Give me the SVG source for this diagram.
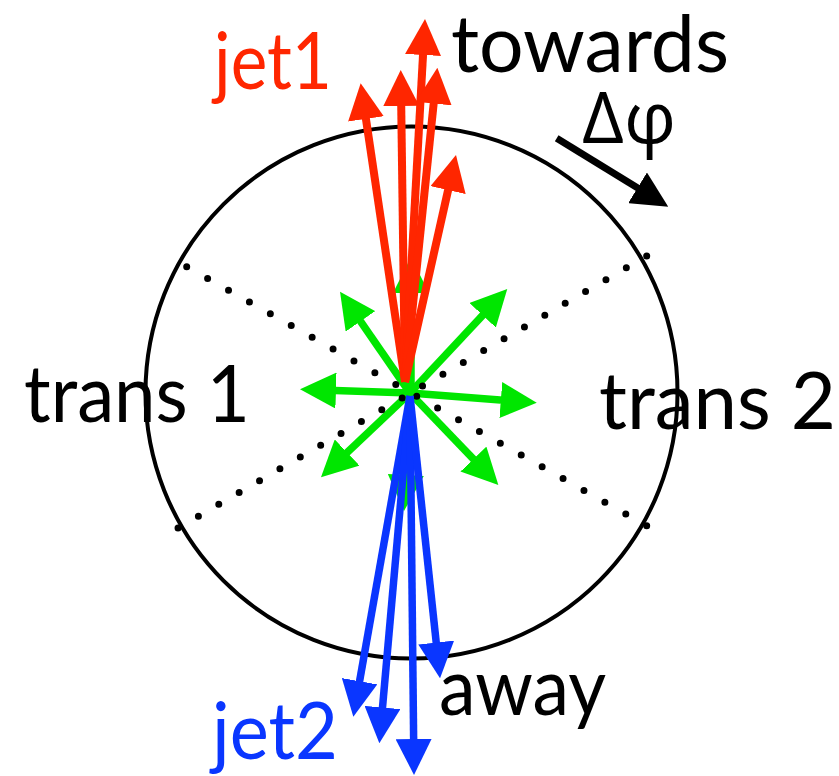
<svg xmlns="http://www.w3.org/2000/svg" width="839" height="776" viewBox="0 0 839 776">
<defs>
<style>
.lbl{font-family:Lato,"Open Sans","Liberation Sans",sans-serif;font-size:80px;fill:#000}
.red{fill:#ff2600}
.blue{fill:#0a36ff}
.sr{stroke:#ff2600;stroke-width:8;fill:none;marker-end:url(#hr)}
.sb{stroke:#0a36ff;stroke-width:7.5;fill:none;marker-end:url(#hb)}
.sg{stroke:#00e600;stroke-width:7.5;fill:none;marker-end:url(#hg)}
.dot{stroke:#000;stroke-width:7;stroke-linecap:round;fill:none}
</style>
<marker id="hr" viewBox="0 -18 36 36" refX="16" refY="0" markerWidth="36" markerHeight="36" markerUnits="userSpaceOnUse" orient="auto"><path d="M0,-18 L36,0 L0,18 z" fill="#ff2600"/></marker>
<marker id="hb" viewBox="0 -18 36 36" refX="16" refY="0" markerWidth="36" markerHeight="36" markerUnits="userSpaceOnUse" orient="auto"><path d="M0,-18 L36,0 L0,18 z" fill="#0a36ff"/></marker>
<marker id="hg" viewBox="0 -18 36 36" refX="16" refY="0" markerWidth="36" markerHeight="36" markerUnits="userSpaceOnUse" orient="auto"><path d="M0,-18 L36,0 L0,18 z" fill="#00e600"/></marker>
<marker id="hk" viewBox="0 -18 36 36" refX="16" refY="0" markerWidth="36" markerHeight="36" markerUnits="userSpaceOnUse" orient="auto"><path d="M0,-18 L36,0 L0,18 z" fill="#000"/></marker>
</defs>
<rect width="839" height="776" fill="#fff"/>
<g id="labels">
<text id="towards" class="lbl" x="451" y="72" textLength="278" lengthAdjust="spacingAndGlyphs">towards</text>
<text id="jet1" class="lbl red" x="214" y="89" textLength="118" lengthAdjust="spacingAndGlyphs">jet1</text>
<text id="dphi" class="lbl" x="582" y="143" style="font-family:'Open Sans',sans-serif;font-size:72px" textLength="94" lengthAdjust="spacingAndGlyphs">Δφ</text>
<text id="trans1" class="lbl" x="24" y="422" textLength="226" lengthAdjust="spacingAndGlyphs">trans 1</text>
<text id="trans2" class="lbl" x="599" y="429" textLength="237" lengthAdjust="spacingAndGlyphs">trans 2</text>
<text id="away" class="lbl" x="439" y="715" textLength="167" lengthAdjust="spacingAndGlyphs">away</text>
<text id="jet2" class="lbl blue" x="212" y="759" textLength="126" lengthAdjust="spacingAndGlyphs">jet2</text>
</g>
<g id="circle">
<circle cx="411.5" cy="392.5" r="266" fill="none" stroke="#000" stroke-width="4"/>
</g>
<g id="connectors">
<g id="green">
<line class="sg" x1="411" y1="393" x2="411" y2="277"/>
<line class="sg" x1="410" y1="393" x2="405" y2="491"/>
<line class="sg" x1="410" y1="393" x2="320" y2="390"/>
<line class="sg" x1="410" y1="393" x2="516.8" y2="401.2"/>
<line class="sg" x1="410" y1="393" x2="351.4" y2="308.2"/>
<line class="sg" x1="410" y1="393" x2="493.6" y2="303.6"/>
<line class="sg" x1="410" y1="393" x2="335.5" y2="463.5"/>
<line class="sg" x1="410" y1="393" x2="484.5" y2="470.6"/>
</g>
<g id="dots">
<line class="dot" x1="186.7" y1="266.7" x2="646.7" y2="525.7" stroke-dasharray="0 23.995"/>
<line class="dot" x1="646.7" y1="256" x2="178" y2="528" stroke-dasharray="0 23.56"/>
</g>
<g id="red">
<line class="sr" x1="405" y1="382" x2="363.6" y2="103.1"/>
<line class="sr" x1="405" y1="382" x2="401" y2="90"/>
<line class="sr" x1="405" y1="382" x2="423.9" y2="39"/>
<line class="sr" x1="405" y1="382" x2="435.3" y2="87.6"/>
<line class="sr" x1="405" y1="382" x2="451.6" y2="174.5"/>
</g>
<g id="blue">
<line class="sb" x1="410" y1="396" x2="356.8" y2="697"/>
<line class="sb" x1="410" y1="396" x2="381.1" y2="723.4"/>
<line class="sb" x1="410" y1="396" x2="413.8" y2="755"/>
<line class="sb" x1="410" y1="396" x2="437.9" y2="658.4"/>
</g>
<g id="dphi-arrow">
<line x1="556.7" y1="138.3" x2="651.2" y2="196.2" stroke="#000" stroke-width="7" marker-end="url(#hk)"/>
</g>
</g>
</svg>
